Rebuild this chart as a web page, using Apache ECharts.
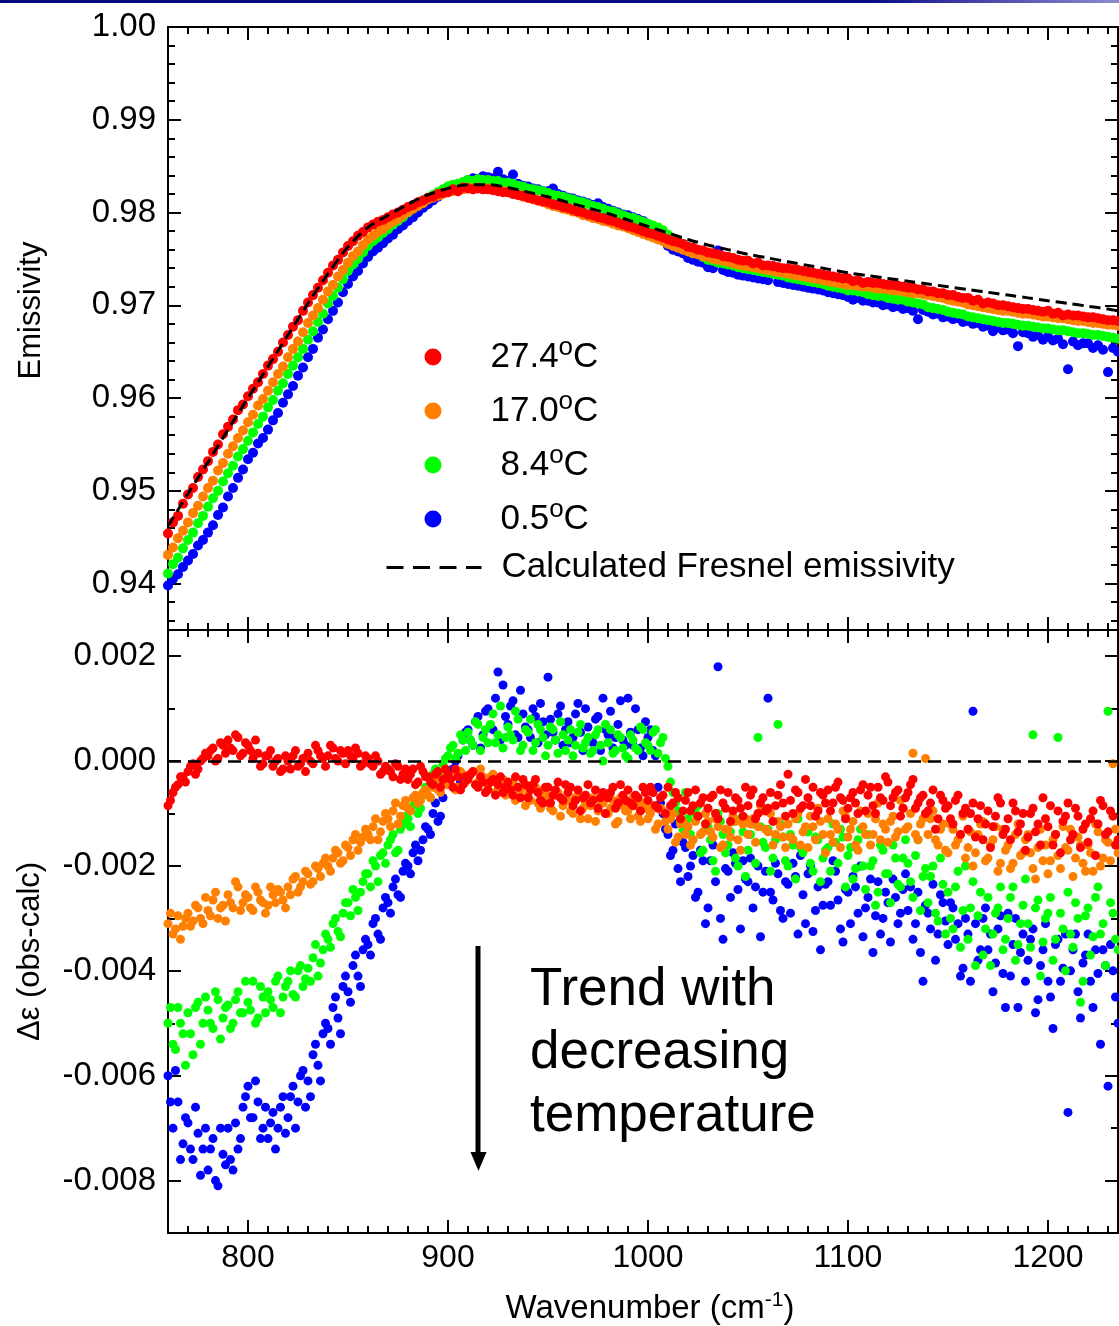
<!DOCTYPE html>
<html>
<head>
<meta charset="utf-8">
<script src="https://cdn.jsdelivr.net/npm/echarts@6/dist/echarts.min.js"></script>
<style>html,body{margin:0;padding:0;background:#fff}#c{width:1119px;height:1326px}</style>
</head>
<body>
<div id="c"></div>
<script>
// ---------------- DATA ----------------
const wavenumber = [
760,762.5,765,767.5, 770,772.5,775,777.5, 780,782.5,785,787.5, 790,792.5,795,797.5,
800,802.5,805,807.5, 810,812.5,815,817.5, 820,822.5,825,827.5, 830,832.5,835,837.5,
840,842.5,845,847.5, 850,852.5,855,857.5, 860,862.5,865,867.5, 870,872.5,875,877.5,
880,882.5,885,887.5, 890,892.5,895,897.5, 900,902.5,905,907.5, 910,912.5,915,917.5,
920,922.5,925,927.5, 930,932.5,935,937.5, 940,942.5,945,947.5, 950,952.5,955,957.5,
960,962.5,965,967.5, 970,972.5,975,977.5, 980,982.5,985,987.5, 990,992.5,995,997.5,
1000,1002.5,1005,1007.5, 1010,1012.5,1015,1017.5, 1020,1022.5,1025,1027.5, 1030,1032.5,1035,1037.5,
1040,1042.5,1045,1047.5, 1050,1052.5,1055,1057.5, 1060,1062.5,1065,1067.5, 1070,1072.5,1075,1077.5,
1080,1082.5,1085,1087.5, 1090,1092.5,1095,1097.5, 1100,1102.5,1105,1107.5, 1110,1112.5,1115,1117.5,
1120,1122.5,1125,1127.5, 1130,1132.5,1135,1137.5, 1140,1142.5,1145,1147.5, 1150,1152.5,1155,1157.5,
1160,1162.5,1165,1167.5, 1170,1172.5,1175,1177.5, 1180,1182.5,1185,1187.5, 1190,1192.5,1195,1197.5,
1200,1202.5,1205,1207.5, 1210,1212.5,1215,1217.5, 1220,1222.5,1225,1227.5, 1230,1232.5,1235
];
// second (interleaved) set of residual samples
const wavenumberB = [
761.25,763.75,766.25,768.75, 771.25,773.75,776.25,778.75, 781.25,783.75,786.25,788.75, 791.25,793.75,796.25,798.75,
801.25,803.75,806.25,808.75, 811.25,813.75,816.25,818.75, 821.25,823.75,826.25,828.75, 831.25,833.75,836.25,838.75,
841.25,843.75,846.25,848.75, 851.25,853.75,856.25,858.75, 861.25,863.75,866.25,868.75, 871.25,873.75,876.25,878.75,
881.25,883.75,886.25,888.75, 891.25,893.75,896.25,898.75, 901.25,903.75,906.25,908.75, 911.25,913.75,916.25,918.75,
921.25,923.75,926.25,928.75, 931.25,933.75,936.25,938.75, 941.25,943.75,946.25,948.75, 951.25,953.75,956.25,958.75,
961.25,963.75,966.25,968.75, 971.25,973.75,976.25,978.75, 981.25,983.75,986.25,988.75, 991.25,993.75,996.25,998.75,
1001.25,1003.75,1006.25,1008.75, 1011.25,1013.75,1016.25,1018.75, 1021.25,1023.75,1026.25,1028.75, 1031.25,1033.75,1036.25,1038.75,
1041.25,1043.75,1046.25,1048.75, 1051.25,1053.75,1056.25,1058.75, 1061.25,1063.75,1066.25,1068.75, 1071.25,1073.75,1076.25,1078.75,
1081.25,1083.75,1086.25,1088.75, 1091.25,1093.75,1096.25,1098.75, 1101.25,1103.75,1106.25,1108.75, 1111.25,1113.75,1116.25,1118.75,
1121.25,1123.75,1126.25,1128.75, 1131.25,1133.75,1136.25,1138.75, 1141.25,1143.75,1146.25,1148.75, 1151.25,1153.75,1156.25,1158.75,
1161.25,1163.75,1166.25,1168.75, 1171.25,1173.75,1176.25,1178.75, 1181.25,1183.75,1186.25,1188.75, 1191.25,1193.75,1196.25,1198.75,
1201.25,1203.75,1206.25,1208.75, 1211.25,1213.75,1216.25,1218.75, 1221.25,1223.75,1226.25,1228.75, 1231.25,1233.75
];

const calcWavenumber = [760,770,780,790,800,810,820,830,840,850,860,870,880,890,900,910,920,930,940,950,
960,970,980,990,1000,1010,1020,1030,1040,1050,1060,1070,1080,1090,1100,1110,1120,1130,1140,1150,
1160,1170,1180,1190,1200,1210,1220,1230,1235];
const calcEmissivity = [0.9462,0.9497,0.9531,0.9566,0.9600,0.9634,0.9668,0.9702,0.9734,0.9763,
0.9784,0.9797,0.9809,0.9819,0.9826,0.9830,0.9830,0.9827,0.9822,0.9817,
0.9811,0.9805,0.9799,0.9792,0.9785,0.9778,0.9771,0.9765,0.9760,0.9755,
0.9751,0.9747,0.9743,0.9739,0.9735,0.9732,0.9729,0.9726,0.9723,0.9720,
0.9717,0.9714,0.9711,0.9708,0.9705,0.9702,0.9699,0.9696,0.9694];

// Observed emissivity (top panel)
const emis274 = [
.9454,.9466,.9473,.9486, .9496,.9503,.9515,.9523, .9532,.9542,.9550,.9561, .9569,.9577,.9587,.9593,
.9602,.9610,.9617,.9626, .9635,.9642,.9650,.9660, .9668,.9677,.9684,.9694, .9703,.9711,.9719,.9727,
.9735,.9743,.9749,.9757, .9764,.9769,.9775,.9779, .9784,.9787,.9790,.9792, .9795,.9798,.9800,.9803,
.9806,.9808,.9811,.9813, .9816,.9817,.9820,.9821, .9822,.9825,.9823,.9827, .9826,.9825,.9826,.9825,
.9825,.9824,.9823,.9822, .9822,.9820,.9819,.9818, .9816,.9815,.9813,.9812, .9811,.9809,.9808,.9806,
.9805,.9803,.9801,.9800, .9798,.9797,.9795,.9794, .9792,.9791,.9789,.9787, .9785,.9784,.9782,.9780,
.9778,.9777,.9775,.9773, .9771,.9769,.9768,.9766, .9763,.9762,.9760,.9759, .9757,.9756,.9755,.9753,
.9752,.9751,.9749,.9748, .9748,.9745,.9746,.9743, .9743,.9742,.9741,.9740, .9740,.9739,.9738,.9737,
.9736,.9735,.9734,.9733, .9732,.9731,.9730,.9729, .9729,.9726,.9727,.9724, .9725,.9724,.9724,.9723,
.9722,.9722,.9721,.9720, .9719,.9719,.9717,.9717, .9715,.9715,.9713,.9713, .9711,.9711,.9709,.9708,
.9708,.9705,.9706,.9702, .9703,.9702,.9700,.9700, .9699,.9698,.9697,.9696, .9696,.9695,.9694,.9693,
.9694,.9691,.9692,.9689, .9690,.9689,.9689,.9688, .9687,.9687,.9686,.9685, .9684,.9684,.9683
];
const emis170 = [
.9431,.9439,.9449,.9457, .9466,.9476,.9484,.9494, .9503,.9511,.9522,.9530, .9540,.9548,.9557,.9565,
.9574,.9582,.9592,.9599, .9608,.9617,.9626,.9634, .9644,.9653,.9661,.9671, .9681,.9689,.9697,.9706,
.9715,.9722,.9731,.9738, .9746,.9753,.9758,.9765, .9771,.9775,.9779,.9782, .9787,.9790,.9793,.9797,
.9801,.9804,.9807,.9810, .9814,.9816,.9818,.9820, .9822,.9823,.9824,.9825, .9827,.9826,.9827,.9826,
.9826,.9825,.9824,.9823, .9822,.9820,.9819,.9817, .9816,.9814,.9813,.9811, .9809,.9807,.9806,.9804,
.9803,.9801,.9800,.9797, .9796,.9794,.9793,.9791, .9790,.9788,.9786,.9785, .9783,.9781,.9779,.9777,
.9775,.9773,.9771,.9769, .9766,.9764,.9762,.9760, .9758,.9756,.9755,.9753, .9752,.9750,.9749,.9748,
.9747,.9745,.9744,.9743, .9742,.9741,.9740,.9739, .9738,.9737,.9736,.9735, .9734,.9733,.9732,.9731,
.9730,.9729,.9728,.9727, .9726,.9725,.9724,.9723, .9722,.9722,.9721,.9720, .9720,.9719,.9718,.9718,
.9717,.9716,.9716,.9715, .9714,.9713,.9713,.9712, .9711,.9710,.9709,.9708, .9706,.9705,.9704,.9703,
.9701,.9700,.9699,.9698, .9697,.9696,.9695,.9694, .9694,.9693,.9692,.9691, .9691,.9690,.9689,.9688,
.9688,.9687,.9686,.9686, .9685,.9684,.9683,.9683, .9682,.9681,.9681,.9680, .9679,.9679,.9678
];
const emis84 = [
.9411,.9421,.9428,.9438, .9447,.9455,.9465,.9473, .9483,.9492,.9500,.9510, .9519,.9527,.9537,.9545,
.9554,.9563,.9572,.9580, .9590,.9598,.9608,.9616, .9626,.9635,.9644,.9653, .9663,.9672,.9682,.9691,
.9702,.9710,.9719,.9728, .9737,.9744,.9750,.9757, .9764,.9769,.9773,.9778, .9782,.9787,.9791,.9795,
.9800,.9804,.9808,.9813, .9816,.9819,.9822,.9825, .9828,.9830,.9831,.9833, .9835,.9834,.9836,.9835,
.9835,.9834,.9834,.9832, .9832,.9831,.9829,.9828, .9826,.9825,.9824,.9823, .9821,.9819,.9818,.9817,
.9815,.9814,.9812,.9811, .9809,.9807,.9806,.9804, .9802,.9801,.9799,.9797, .9795,.9794,.9792,.9790,
.9788,.9786,.9784,.9781, .9776,.9772,.9769,.9766, .9759,.9756,.9755,.9752, .9749,.9748,.9746,.9745,
.9744,.9743,.9741,.9740, .9739,.9738,.9737,.9736, .9735,.9734,.9733,.9732, .9730,.9729,.9728,.9727,
.9726,.9725,.9724,.9723, .9721,.9720,.9719,.9718, .9716,.9716,.9715,.9714, .9712,.9711,.9710,.9710,
.9708,.9707,.9706,.9706, .9704,.9703,.9702,.9701, .9698,.9697,.9696,.9695, .9693,.9692,.9691,.9690,
.9688,.9687,.9686,.9685, .9684,.9683,.9682,.9681, .9681,.9680,.9679,.9678, .9678,.9677,.9676,.9675,
.9675,.9674,.9673,.9673, .9672,.9671,.9670,.9670, .9669,.9668,.9668,.9667, .9666,.9665,.9664
];
const emis05 = [
.9398,.9405,.9410,.9418, .9425,.9432,.9441,.9447, .9455,.9463,.9474,.9482, .9494,.9503,.9514,.9523,
.9534,.9541,.9551,.9557, .9566,.9576,.9584,.9595, .9604,.9613,.9624,.9633, .9644,.9653,.9665,.9674,
.9685,.9694,.9703,.9714, .9723,.9731,.9737,.9745, .9752,.9758,.9762,.9767, .9772,.9776,.9782,.9786,
.9791,.9795,.9800,.9805, .9809,.9813,.9817,.9821, .9824,.9828,.9830,.9832, .9835,.9837,.9836,.9839,
.9838,.9837,.9844,.9836, .9834,.9841,.9831,.9829, .9828,.9826,.9825,.9823, .9823,.9826,.9820,.9818,
.9816,.9815,.9813,.9812, .9810,.9808,.9810,.9806, .9804,.9802,.9800,.9798, .9797,.9795,.9793,.9791,
.9787,.9785,.9778,.9773, .9764,.9760,.9758,.9756, .9751,.9749,.9747,.9746, .9741,.9740,.9759,.9738,
.9736,.9735,.9733,.9732, .9731,.9730,.9729,.9728, .9727,.9742,.9725,.9724, .9723,.9722,.9721,.9720,
.9719,.9718,.9717,.9716, .9714,.9713,.9712,.9711, .9709,.9706,.9708,.9705, .9705,.9703,.9703,.9700,
.9701,.9698,.9699,.9696, .9697,.9694,.9685,.9695, .9693,.9690,.9691,.9687, .9688,.9685,.9686,.9682,
.9683,.9680,.9681,.9677, .9678,.9672,.9676,.9673, .9674,.9670,.9656,.9671, .9670,.9666,.9668,.9663,
.9666,.9662,.9664,.9658, .9631,.9661,.9657,.9659, .9659,.9654,.9657,.9652, .9628,.9654,.9650
];

// Residual Δε = obs - calc (bottom panel), samples on `wavenumber`
const res274 = [
-0.00085,-0.00060,-0.00045,-0.00030, -0.00020,-0.00005,-0.00015,0.00005, 0.00010,0.00025,0.00005,0.00030, 0.00040,0.00020,0.00045,0.00015,
0.00030,0.00005,0.00015,-0.00005, 0.00010,-0.00010,0.00005,-0.00015, 0.00000,0.00010,-0.00010,0.00005, 0.00015,-0.00005,0.00020,0.00005,
0.00010,0.00025,0.00000,0.00015, 0.00020,0.00005,0.00015,-0.00005, 0.00005,-0.00010,0.00000,-0.00020, -0.00015,-0.00030,-0.00010,-0.00025,
-0.00035,-0.00015,-0.00040,-0.00020, -0.00030,-0.00045,-0.00020,-0.00035, -0.00025,-0.00050,-0.00030,-0.00045, -0.00035,-0.00020,-0.00050,-0.00040,
-0.00055,-0.00035,-0.00045,-0.00060, -0.00040,-0.00065,-0.00050,-0.00035, -0.00070,-0.00045,-0.00060,-0.00080, -0.00050,-0.00065,-0.00040,-0.00075,
-0.00060,-0.00085,-0.00055,-0.00070, -0.00045,-0.00075,-0.00090,-0.00060, -0.00070,-0.00050,-0.00080,-0.00065, -0.00055,-0.00085,-0.00070,-0.00050,
-0.00075,-0.00060,-0.00090,-0.00065, -0.00050,-0.00080,-0.00070,-0.00095, -0.00060,-0.00085,-0.00105,-0.00070, -0.00090,-0.00065,-0.00110,-0.00080,
-0.00060,-0.00095,-0.00075,-0.00105, -0.00085,-0.00055,-0.00100,-0.00070, -0.00090,-0.00115,-0.00065,-0.00080, -0.00025,-0.00100,-0.00060,-0.00085,
-0.00070,-0.00050,-0.00095,-0.00065, -0.00055,-0.00080,-0.00040,-0.00075, -0.00090,-0.00060,-0.00100,-0.00045, -0.00065,-0.00085,-0.00050,-0.00075,
-0.00040,-0.00070,-0.00055,-0.00090, -0.00060,-0.00035,-0.00080,-0.00065, -0.00095,-0.00055,-0.00110,-0.00075, -0.00085,-0.00120,-0.00065,-0.00100,
-0.00130,-0.00080,-0.00110,-0.00150, -0.00095,-0.00125,-0.00070,-0.00140, -0.00110,-0.00080,-0.00135,-0.00100, -0.00145,-0.00090,-0.00120,-0.00070,
-0.00125,-0.00160,-0.00095,-0.00115, -0.00080,-0.00140,-0.00105,-0.00130, -0.00155,-0.00095,-0.00120,-0.00085, -0.00135,-0.00105,-0.00150
];
const res170 = [
-0.00310,-0.00330,-0.00295,-0.00315, -0.00290,-0.00305,-0.00280,-0.00310, -0.00285,-0.00265,-0.00300,-0.00275, -0.00255,-0.00280,-0.00240,-0.00270,
-0.00260,-0.00285,-0.00250,-0.00270, -0.00275,-0.00255,-0.00245,-0.00265, -0.00240,-0.00225,-0.00250,-0.00230, -0.00215,-0.00230,-0.00205,-0.00195,
-0.00200,-0.00185,-0.00175,-0.00190, -0.00165,-0.00150,-0.00170,-0.00145, -0.00140,-0.00125,-0.00150,-0.00115, -0.00110,-0.00095,-0.00120,-0.00085,
-0.00090,-0.00070,-0.00080,-0.00060, -0.00065,-0.00050,-0.00055,-0.00040, -0.00045,-0.00030,-0.00050,-0.00025, -0.00035,-0.00020,-0.00040,-0.00030,
-0.00045,-0.00025,-0.00055,-0.00035, -0.00060,-0.00040,-0.00070,-0.00050, -0.00065,-0.00045,-0.00080,-0.00055, -0.00070,-0.00095,-0.00060,-0.00085,
-0.00075,-0.00100,-0.00065,-0.00090, -0.00110,-0.00070,-0.00095,-0.00080, -0.00100,-0.00075,-0.00115,-0.00085, -0.00095,-0.00070,-0.00105,-0.00080,
-0.00110,-0.00085,-0.00120,-0.00095, -0.00130,-0.00100,-0.00145,-0.00115, -0.00125,-0.00150,-0.00105,-0.00135, -0.00115,-0.00145,-0.00125,-0.00160,
-0.00130,-0.00105,-0.00150,-0.00120, -0.00140,-0.00110,-0.00125,-0.00095, -0.00135,-0.00160,-0.00115,-0.00145, -0.00120,-0.00150,-0.00100,-0.00135,
-0.00165,-0.00125,-0.00090,-0.00140, -0.00110,-0.00155,-0.00130,-0.00095, -0.00145,-0.00115,-0.00170,-0.00125, -0.00100,-0.00140,-0.00080,-0.00120,
-0.00155,-0.00105,-0.00135,-0.00090, -0.00125,0.00015,-0.00150,-0.00110, -0.00140,-0.00095,-0.00160,-0.00120, -0.00175,-0.00130,-0.00150,-0.00105,
-0.00165,-0.00200,-0.00140,-0.00115, -0.00185,-0.00150,-0.00210,-0.00130, -0.00160,-0.00195,-0.00120,-0.00175, -0.00140,-0.00205,-0.00165,-0.00190,
-0.00215,-0.00150,-0.00180,-0.00125, -0.00170,-0.00220,-0.00145,-0.00195, -0.00160,-0.00210,-0.00135,-0.00185, -0.00155,-0.00005,-0.00175
];
const res84 = [
-0.00500,-0.00540,-0.00470,-0.00520, -0.00480,-0.00560,-0.00460,-0.00500, -0.00475,-0.00510,-0.00455,-0.00490, -0.00465,-0.00500,-0.00440,-0.00480,
-0.00460,-0.00420,-0.00490,-0.00450, -0.00440,-0.00470,-0.00410,-0.00450, -0.00420,-0.00445,-0.00400,-0.00430, -0.00395,-0.00375,-0.00410,-0.00360,
-0.00340,-0.00310,-0.00325,-0.00290, -0.00270,-0.00245,-0.00285,-0.00230, -0.00215,-0.00190,-0.00230,-0.00175, -0.00160,-0.00140,-0.00170,-0.00120,
-0.00110,-0.00085,-0.00100,-0.00065, -0.00050,-0.00025,-0.00040,-0.00005, 0.00010,0.00030,0.00015,0.00040, 0.00055,0.00030,0.00070,0.00045,
0.00035,0.00090,0.00050,0.00025, 0.00065,0.00040,0.00080,0.00030, 0.00055,0.00020,0.00070,0.00045, 0.00030,0.00060,0.00015,0.00050,
0.00040,0.00010,0.00055,0.00025, 0.00045,0.00020,0.00060,0.00000, 0.00035,0.00015,0.00050,0.00025, 0.00005,0.00040,0.00020,0.00060,
0.00030,0.00055,0.00015,0.00045, -0.00010,-0.00060,-0.00095,-0.00130, -0.00110,-0.00150,-0.00085,-0.00170, -0.00125,-0.00190,-0.00100,-0.00140,
-0.00160,-0.00115,-0.00200,-0.00135, -0.00170,-0.00120,0.00045,-0.00155, -0.00130,-0.00185,0.00070,-0.00145, -0.00200,-0.00160,-0.00110,-0.00175,
-0.00135,-0.00210,-0.00150,-0.00185, -0.00165,-0.00120,-0.00195,-0.00145, -0.00180,-0.00225,-0.00150,-0.00200, -0.00140,-0.00190,-0.00250,-0.00170,
-0.00215,-0.00160,-0.00235,-0.00185, -0.00195,-0.00260,-0.00150,-0.00220, -0.00270,-0.00200,-0.00305,-0.00235, -0.00250,-0.00320,-0.00210,-0.00285,
-0.00340,-0.00230,-0.00295,-0.00370, -0.00260,-0.00330,-0.00280,-0.00360, -0.00300,-0.00240,-0.00350,-0.00275, -0.00310,0.00050,-0.00265,-0.00345,
-0.00290,-0.00380,0.00045,-0.00320, -0.00250,-0.00355,-0.00300,-0.00420, -0.00280,-0.00335,-0.00240,-0.00310, 0.00095,-0.00290,-0.00360
];
const res05 = [
-0.00600,-0.00700,-0.00650,-0.00730, -0.00690,-0.00760,-0.00710,-0.00740, -0.00780,-0.00720,-0.00810,-0.00750, -0.00700,-0.00780,-0.00740,-0.00660,
-0.00620,-0.00680,-0.00650,-0.00700, -0.00720,-0.00670,-0.00700,-0.00640, -0.00680,-0.00620,-0.00650,-0.00590, -0.00610,-0.00560,-0.00580,-0.00520,
-0.00510,-0.00470,-0.00490,-0.00430, -0.00440,-0.00390,-0.00410,-0.00360, -0.00350,-0.00310,-0.00330,-0.00280, -0.00270,-0.00240,-0.00255,-0.00210,
-0.00200,-0.00175,-0.00190,-0.00150, -0.00130,-0.00100,-0.00115,-0.00070, -0.00045,-0.00015,0.00010,0.00040, 0.00060,0.00030,0.00085,0.00050,
0.00100,0.00060,0.00170,0.00145, 0.00070,0.00115,0.00045,0.00090, 0.00060,0.00100,0.00035,0.00075, 0.00160,0.00055,0.00090,0.00030,
0.00075,0.00045,0.00110,0.00020, 0.00065,0.00035,0.00085,0.00120, 0.00050,0.00025,0.00070,0.00040, 0.00120,0.00030,0.00060,0.00010,
0.00045,0.00020,-0.00050,-0.00100, -0.00140,-0.00170,-0.00205,-0.00155, -0.00220,-0.00180,-0.00250,-0.00190, -0.00280,-0.00160,0.00180,-0.00340,
-0.00210,-0.00175,-0.00245,-0.00190, -0.00230,-0.00280,-0.00200,-0.00250, 0.00120,-0.00265,-0.00215,-0.00300, -0.00235,-0.00195,-0.00330,-0.00255,
-0.00215,-0.00325,-0.00240,-0.00275, -0.00230,-0.00190,-0.00265,-0.00345, -0.00250,-0.00220,-0.00290,-0.00335, -0.00260,-0.00365,-0.00230,-0.00300,
-0.00270,-0.00225,-0.00310,-0.00245, -0.00285,-0.00340,-0.00250,-0.00420, -0.00290,-0.00235,-0.00330,-0.00270, -0.00350,-0.00280,-0.00310,-0.00395,
-0.00330,0.00095,-0.00380,-0.00300, -0.00360,-0.00440,-0.00320,-0.00405, -0.00290,-0.00350,-0.00470,-0.00330, -0.00380,-0.00320,-0.00455,-0.00360,
-0.00420,-0.00510,-0.00340,-0.00395, -0.00670,-0.00360,-0.00440,-0.00385, -0.00330,-0.00470,-0.00405,-0.00360, -0.00620,-0.00400,-0.00500
];
// Residuals on `wavenumberB`
const res274B = [
-0.00075,-0.00050,-0.00030,-0.00040, -0.00010,-0.00025,0.00000,0.00015, 0.00020,0.00000,0.00035,0.00015, 0.00025,0.00050,0.00010,0.00035,
0.00020,0.00040,-0.00010,0.00010, 0.00020,0.00000,-0.00020,0.00010, -0.00015,0.00020,-0.00005,-0.00020, 0.00000,0.00030,0.00010,-0.00010,
0.00030,0.00005,0.00020,-0.00005, 0.00010,0.00025,-0.00010,0.00010, -0.00005,0.00010,-0.00025,-0.00010, -0.00020,-0.00005,-0.00035,-0.00015,
-0.00025,-0.00045,-0.00010,-0.00030, -0.00040,-0.00025,-0.00050,-0.00015, -0.00035,-0.00015,-0.00055,-0.00030, -0.00025,-0.00045,-0.00030,-0.00060,
-0.00040,-0.00065,-0.00030,-0.00050, -0.00055,-0.00030,-0.00070,-0.00045, -0.00055,-0.00035,-0.00075,-0.00050, -0.00080,-0.00055,-0.00070,-0.00045,
-0.00050,-0.00075,-0.00095,-0.00065, -0.00080,-0.00055,-0.00070,-0.00100, -0.00060,-0.00090,-0.00045,-0.00075, -0.00080,-0.00065,-0.00095,-0.00060,
-0.00050,-0.00085,-0.00070,-0.00100, -0.00085,-0.00060,-0.00110,-0.00075, -0.00095,-0.00055,-0.00080,-0.00120, -0.00070,-0.00100,-0.00055,-0.00090,
-0.00115,-0.00070,-0.00090,-0.00050, -0.00065,-0.00110,-0.00080,-0.00095, -0.00060,-0.00085,-0.00045,-0.00105, -0.00075,-0.00055,-0.00090,-0.00035,
-0.00085,-0.00105,-0.00060,-0.00080, -0.00095,-0.00050,-0.00070,-0.00110, -0.00070,-0.00080,-0.00055,-0.00095, -0.00050,-0.00100,-0.00070,-0.00030,
-0.00085,-0.00060,-0.00105,-0.00070, -0.00045,-0.00090,-0.00070,-0.00100, -0.00080,-0.00130,-0.00065,-0.00090, -0.00110,-0.00075,-0.00140,-0.00090,
-0.00100,-0.00145,-0.00085,-0.00120, -0.00165,-0.00105,-0.00080,-0.00130, -0.00150,-0.00095,-0.00120,-0.00170, -0.00100,-0.00135,-0.00160,-0.00110,
-0.00085,-0.00140,-0.00175,-0.00105, -0.00150,-0.00090,-0.00165,-0.00120, -0.00110,-0.00180,-0.00075,-0.00140, -0.00095,-0.00160
];
const res170B = [
-0.00290,-0.00320,-0.00340,-0.00300, -0.00315,-0.00275,-0.00300,-0.00260, -0.00295,-0.00250,-0.00280,-0.00305, -0.00270,-0.00230,-0.00285,-0.00255,
-0.00280,-0.00240,-0.00265,-0.00290, -0.00240,-0.00270,-0.00250,-0.00280, -0.00255,-0.00220,-0.00240,-0.00210, -0.00235,-0.00200,-0.00220,-0.00185,
-0.00210,-0.00170,-0.00195,-0.00160, -0.00180,-0.00140,-0.00155,-0.00130, -0.00150,-0.00110,-0.00135,-0.00100, -0.00125,-0.00080,-0.00105,-0.00075,
-0.00095,-0.00065,-0.00075,-0.00055, -0.00070,-0.00035,-0.00060,-0.00030, -0.00035,-0.00055,-0.00020,-0.00040, -0.00025,-0.00045,-0.00015,-0.00040,
-0.00030,-0.00060,-0.00040,-0.00065, -0.00045,-0.00075,-0.00055,-0.00085, -0.00075,-0.00050,-0.00090,-0.00065, -0.00090,-0.00065,-0.00105,-0.00075,
-0.00095,-0.00070,-0.00110,-0.00080, -0.00085,-0.00115,-0.00075,-0.00100, -0.00090,-0.00120,-0.00070,-0.00095, -0.00110,-0.00085,-0.00115,-0.00090,
-0.00100,-0.00130,-0.00090,-0.00115, -0.00110,-0.00155,-0.00120,-0.00140, -0.00160,-0.00115,-0.00140,-0.00100, -0.00135,-0.00110,-0.00165,-0.00130,
-0.00145,-0.00115,-0.00170,-0.00110, -0.00120,-0.00155,-0.00085,-0.00130, -0.00100,-0.00140,-0.00125,-0.00165, -0.00145,-0.00110,-0.00160,-0.00125,
-0.00105,-0.00150,-0.00115,-0.00175, -0.00140,-0.00120,-0.00165,-0.00105, -0.00130,-0.00160,-0.00095,-0.00140, -0.00160,-0.00110,-0.00150,-0.00130,
-0.00115,-0.00145,-0.00075,-0.00130, -0.00100,-0.00140,-0.00120,0.00005, -0.00110,-0.00150,-0.00130,-0.00170, -0.00120,-0.00160,-0.00140,-0.00185,
-0.00135,-0.00175,-0.00120,-0.00190, -0.00160,-0.00125,-0.00195,-0.00170, -0.00205,-0.00140,-0.00180,-0.00150, -0.00175,-0.00225,-0.00130,-0.00160,
-0.00190,-0.00140,-0.00205,-0.00165, -0.00130,-0.00185,-0.00160,-0.00210, -0.00175,-0.00120,-0.00200,-0.00150, -0.00190,-0.00130
];
const res84B = [
-0.00470,-0.00550,-0.00500,-0.00580, -0.00520,-0.00470,-0.00540,-0.00450, -0.00500,-0.00440,-0.00530,-0.00470, -0.00510,-0.00455,-0.00480,-0.00420,
-0.00475,-0.00500,-0.00430,-0.00480, -0.00455,-0.00420,-0.00480,-0.00430, -0.00400,-0.00450,-0.00390,-0.00415, -0.00420,-0.00350,-0.00385,-0.00330,
-0.00355,-0.00300,-0.00335,-0.00270, -0.00295,-0.00260,-0.00250,-0.00215, -0.00240,-0.00200,-0.00180,-0.00195, -0.00150,-0.00175,-0.00130,-0.00105,
-0.00125,-0.00075,-0.00090,-0.00050, -0.00070,-0.00015,-0.00030,0.00005, 0.00025,0.00005,0.00050,0.00020, 0.00040,0.00075,0.00020,0.00060,
0.00070,0.00035,0.00105,0.00045, 0.00050,0.00095,0.00020,0.00060, 0.00080,0.00035,0.00060,0.00010, 0.00065,0.00040,0.00075,0.00020,
0.00060,0.00030,0.00070,0.00035, 0.00015,0.00050,0.00030,0.00070, 0.00060,0.00020,0.00045,0.00010, 0.00050,0.00025,0.00065,0.00035,
0.00020,0.00060,0.00035,0.00005, -0.00040,-0.00080,-0.00115,-0.00060, -0.00140,-0.00100,-0.00175,-0.00120, -0.00150,-0.00210,-0.00115,-0.00175,
-0.00135,-0.00185,-0.00110,-0.00220, -0.00140,-0.00195,-0.00125,-0.00165, -0.00210,-0.00150,-0.00120,-0.00190, -0.00140,-0.00225,-0.00165,-0.00130,
-0.00195,-0.00145,-0.00230,-0.00170, -0.00210,-0.00155,-0.00130,-0.00240, -0.00165,-0.00205,-0.00130,-0.00245, -0.00200,-0.00275,-0.00160,-0.00215,
-0.00270,-0.00185,-0.00240,-0.00150, -0.00230,-0.00180,-0.00285,-0.00205, -0.00220,-0.00290,-0.00185,-0.00330, -0.00300,-0.00240,-0.00355,-0.00200,
-0.00280,-0.00390,-0.00250,-0.00320, -0.00390,-0.00290,-0.00240,-0.00340, -0.00260,-0.00380,-0.00310,-0.00225, -0.00355,-0.00280,-0.00410,-0.00300,
-0.00260,-0.00340,-0.00290,-0.00400, -0.00330,-0.00270,-0.00460,-0.00295, -0.00370,-0.00260,-0.00330,-0.00390, -0.00270,-0.00340
];
const res05B = [
-0.00650,-0.00590,-0.00760,-0.00680, -0.00740,-0.00660,-0.00790,-0.00700, -0.00740,-0.00800,-0.00700,-0.00770, -0.00760,-0.00690,-0.00720,-0.00640,
-0.00680,-0.00610,-0.00720,-0.00660, -0.00690,-0.00740,-0.00660,-0.00710, -0.00640,-0.00700,-0.00600,-0.00660, -0.00640,-0.00540,-0.00610,-0.00500,
-0.00540,-0.00450,-0.00520,-0.00410, -0.00460,-0.00370,-0.00430,-0.00340, -0.00370,-0.00300,-0.00340,-0.00260, -0.00290,-0.00225,-0.00260,-0.00195,
-0.00215,-0.00160,-0.00170,-0.00125, -0.00140,-0.00080,-0.00105,-0.00040, -0.00025,0.00000,-0.00040,0.00055, 0.00040,0.00075,0.00025,0.00095,
0.00065,0.00120,0.00040,0.00085, 0.00105,0.00050,0.00135,0.00065, 0.00045,0.00085,0.00110,0.00050, 0.00080,0.00040,0.00105,0.00060,
0.00035,0.00090,0.00055,0.00100, 0.00040,0.00080,0.00020,0.00060, 0.00095,0.00045,0.00115,0.00030, 0.00055,0.00100,0.00025,0.00075,
0.00060,0.00010,-0.00080,-0.00130, -0.00180,-0.00120,-0.00230,-0.00165, -0.00200,-0.00260,-0.00170,-0.00310, -0.00190,-0.00230,-0.00300,-0.00205,
-0.00260,-0.00195,-0.00320,-0.00225, -0.00185,-0.00240,-0.00335,-0.00210, -0.00250,-0.00195,-0.00285,-0.00230, -0.00290,-0.00220,-0.00180,-0.00310,
-0.00200,-0.00285,-0.00360,-0.00235, -0.00275,-0.00210,-0.00320,-0.00245, -0.00310,-0.00240,-0.00200,-0.00280, -0.00225,-0.00295,-0.00330,-0.00250,
-0.00345,-0.00260,-0.00290,-0.00215, -0.00240,-0.00310,-0.00365,-0.00275, -0.00320,-0.00380,-0.00255,-0.00305, -0.00270,-0.00340,-0.00410,-0.00300,
-0.00420,-0.00310,-0.00360,-0.00280, -0.00330,-0.00385,-0.00295,-0.00470, -0.00410,-0.00300,-0.00365,-0.00420, -0.00340,-0.00480,-0.00390,-0.00310,
-0.00450,-0.00350,-0.00420,-0.00330, -0.00400,-0.00330,-0.00490,-0.00370, -0.00420,-0.00360,-0.00540,-0.00390, -0.00350,-0.00450
];

const seriesNames = ['27.4°C', '17.0°C', '8.4°C', '0.5°C'];
const seriesColors = ['#ff0000', '#ff8000', '#00ff00', '#0000ff'];
const emisData = [emis274, emis170, emis84, emis05];
const resData = [res274, res170, res84, res05];
const resDataB = [res274B, res170B, res84B, res05B];
const calcName = 'Calculated Fresnel emissivity';

const xMajorTicks = [800, 900, 1000, 1100, 1200];
const emisMajorTicks = [0.94, 0.95, 0.96, 0.97, 0.98, 0.99, 1.00];
const resMajorTicks = [-0.008, -0.006, -0.004, -0.002, 0.000, 0.002];

[...emisData, ...resData].forEach((a, i) => { if (a.length !== wavenumber.length) console.error('length mismatch A', i, a.length); });
resDataB.forEach((a, i) => { if (a.length !== wavenumberB.length) console.error('length mismatch B', i, a.length); });

// ---------------- LAYOUT / STYLE ----------------
const FONT = "'Liberation Sans', Arial, Helvetica, sans-serif";
const X_MIN = 760, X_MAX = 1235;
const minorX = []; for (let v = 760; v <= 1230; v += 10) minorX.push(v);
const minorEmis = []; for (let k = 468; k <= 500; k++) minorEmis.push(+(k * 0.002).toFixed(3));
const minorRes = []; for (let k = -9; k <= 2; k++) minorRes.push(k / 1000);

const BLACK = '#000';
const MAJ = 13, MIN = 7;

function xAxis(grid, pos, ticks, len, extra) {
  return Object.assign({
    type: 'value', gridIndex: grid, position: pos, min: X_MIN, max: X_MAX,
    axisLine: { show: true, onZero: false, lineStyle: { color: BLACK, width: 2 } },
    axisTick: { show: true, inside: true, length: len, customValues: ticks, lineStyle: { color: BLACK, width: 2 } },
    axisLabel: { show: false },
    splitLine: { show: false }
  }, extra || {});
}
function yAxis(grid, pos, min, max, ticks, len, extra) {
  return Object.assign({
    type: 'value', gridIndex: grid, position: pos, min: min, max: max,
    axisLine: { show: true, onZero: false, lineStyle: { color: BLACK, width: 2 } },
    axisTick: { show: true, inside: true, length: len, customValues: ticks, lineStyle: { color: BLACK, width: 2 } },
    axisLabel: { show: false },
    splitLine: { show: false }
  }, extra || {});
}

const xAxes = [
  xAxis(0, 'bottom', xMajorTicks, MAJ),
  xAxis(0, 'bottom', minorX, MIN),
  xAxis(0, 'top', xMajorTicks, MAJ),
  xAxis(0, 'top', minorX, MIN),
  xAxis(1, 'bottom', xMajorTicks, MAJ, {
    axisLabel: { show: true, customValues: xMajorTicks, margin: 9, color: BLACK, fontSize: 32, fontFamily: FONT,
      formatter: v => String(v) },
    name: 'Wavenumber (cm{sup|-1})', nameLocation: 'middle', nameGap: 57,
    nameTextStyle: { color: BLACK, fontSize: 33, fontFamily: FONT, lineHeight: 38, padding: [0, 0, 0, 14],
      rich: { sup: { fontSize: 21, fontFamily: FONT, color: BLACK, verticalAlign: 'top', lineHeight: 14 } } }
  }),
  xAxis(1, 'bottom', minorX, MIN),
  xAxis(1, 'top', xMajorTicks, MAJ),
  xAxis(1, 'top', minorX, MIN)
];
const yAxes = [
  yAxis(0, 'left', 0.935, 1.0, emisMajorTicks, MAJ, {
    axisLabel: { show: true, customValues: emisMajorTicks, margin: 12, color: BLACK, fontSize: 33, fontFamily: FONT,
      showMinLabel: true, showMaxLabel: true, formatter: v => v.toFixed(2) },
    name: 'Emissivity', nameLocation: 'middle', nameGap: 121,
    nameTextStyle: { color: BLACK, fontSize: 31, fontFamily: FONT, padding: [0, 0, 0, 36] }
  }),
  yAxis(0, 'left', 0.935, 1.0, minorEmis, MIN),
  yAxis(0, 'right', 0.935, 1.0, emisMajorTicks, MAJ),
  yAxis(0, 'right', 0.935, 1.0, minorEmis, MIN),
  yAxis(1, 'left', -0.009, 0.0025, resMajorTicks, MAJ, {
    axisLabel: { show: true, customValues: resMajorTicks, margin: 12, color: BLACK, fontSize: 33, fontFamily: FONT,
      showMinLabel: true, showMaxLabel: true, formatter: v => v.toFixed(3) },
    name: 'Δε (obs-calc)', nameLocation: 'middle', nameGap: 122,
    nameTextStyle: { color: BLACK, fontSize: 31, fontFamily: FONT, padding: [0, 40, 0, 0] }
  }),
  yAxis(1, 'left', -0.009, 0.0025, minorRes, MIN),
  yAxis(1, 'right', -0.009, 0.0025, resMajorTicks, MAJ),
  yAxis(1, 'right', -0.009, 0.0025, minorRes, MIN)
];

const series = [];
// draw order: blue first, red last
for (let s = 3; s >= 0; s--) {
  series.push({
    type: 'scatter', name: seriesNames[s], xAxisIndex: 0, yAxisIndex: 0,
    symbol: 'circle', symbolSize: 10, itemStyle: { color: seriesColors[s], opacity: 1 },
    data: wavenumber.map((w, i) => [w, emisData[s][i]]), silent: true
  });
}
for (let s = 3; s >= 0; s--) {
  const pts = wavenumber.map((w, i) => [w, resData[s][i]])
    .concat(wavenumberB.map((w, i) => [w, resDataB[s][i]]));
  const ser = {
    type: 'scatter', name: seriesNames[s], xAxisIndex: 4, yAxisIndex: 4,
    symbol: 'circle', symbolSize: 9, itemStyle: { color: seriesColors[s], opacity: 1 },
    data: pts, silent: true
  };
  if (s === 0) {
    ser.markLine = { silent: true, symbol: 'none', label: { show: false },
      lineStyle: { color: BLACK, type: [13, 7], width: 2.5 }, data: [{ yAxis: 0 }] };
  }
  series.push(ser);
}
series.push({
  type: 'line', name: calcName, xAxisIndex: 0, yAxisIndex: 0, smooth: 0.3,
  symbol: 'none', lineStyle: { color: BLACK, width: 3, type: [11, 6] }, itemStyle: { color: BLACK },
  data: calcWavenumber.map((w, i) => [w, calcEmissivity[i]]), silent: true, z: 5
});

const option = {
  animation: false,
  backgroundColor: '#fff',
  textStyle: { fontFamily: FONT },
  grid: [
    { left: 168, top: 27, width: 950, height: 603, outerBoundsMode: 'none' },
    { left: 168, top: 630, width: 950, height: 603, outerBoundsMode: 'none' }
  ],
  xAxis: xAxes,
  yAxis: yAxes,
  legend: [
    {
      data: seriesNames, orient: 'vertical', left: 424.5, top: 335, itemGap: 14.5, padding: 0,
      icon: 'circle', itemWidth: 17, itemHeight: 17, selectedMode: false,
      formatter: name => {
        const parts = name.split('°');
        const sp = parts[0].length < 4 ? 'sp2' : 'sp1';
        return '{' + sp + '|}{n|' + parts[0] + '}{s|o}{n|' + parts[1] + '}';
      },
      textStyle: {
        color: BLACK, fontSize: 35, fontFamily: FONT,
        rich: {
          sp1: { width: 44 },
          sp2: { width: 54 },
          n: { fontSize: 35, fontFamily: FONT, color: BLACK, lineHeight: 44 },
          s: { fontSize: 26, fontFamily: FONT, color: BLACK, verticalAlign: 'top', lineHeight: 16 }
        }
      }
    },
    {
      data: [calcName], orient: 'vertical', left: 385, top: 550, padding: 0,
      itemWidth: 95, itemHeight: 14, selectedMode: false,
      itemStyle: { opacity: 0 },
      lineStyle: { color: BLACK, width: 3, type: [17, 9.5], opacity: 1 },
      formatter: name => '{sp|}{n|' + name + '}',
      textStyle: {
        color: BLACK, fontSize: 35, fontFamily: FONT,
        rich: { sp: { width: 15 }, n: { fontSize: 35, fontFamily: FONT, color: BLACK, lineHeight: 40 } }
      }
    }
  ],
  graphic: [
    { type: 'rect', left: 0, top: 0, shape: { width: 1119, height: 3 }, silent: true,
      style: { fill: new echarts.graphic.LinearGradient(0, 0, 1, 0, [
        { offset: 0, color: '#07077e' }, { offset: 0.78, color: '#0c0c88' }, { offset: 1, color: '#8c8cd0' }]) } },
    { type: 'text', left: 530, top: 959, silent: true,
      style: { text: 'Trend with\ndecreasing\ntemperature', fontSize: 53, fontFamily: FONT, lineHeight: 63, fill: BLACK } },
    { type: 'line', silent: true, shape: { x1: 478, y1: 946, x2: 478, y2: 1155 }, style: { stroke: BLACK, lineWidth: 5 } },
    { type: 'polygon', silent: true, shape: { points: [[470.5, 1152], [486.5, 1152], [478.5, 1171]] }, style: { fill: BLACK } }
  ],
  series: series
};

const chart = echarts.init(document.getElementById('c'), null, { renderer: 'canvas' });
chart.setOption(option);
</script>
</body>
</html>
